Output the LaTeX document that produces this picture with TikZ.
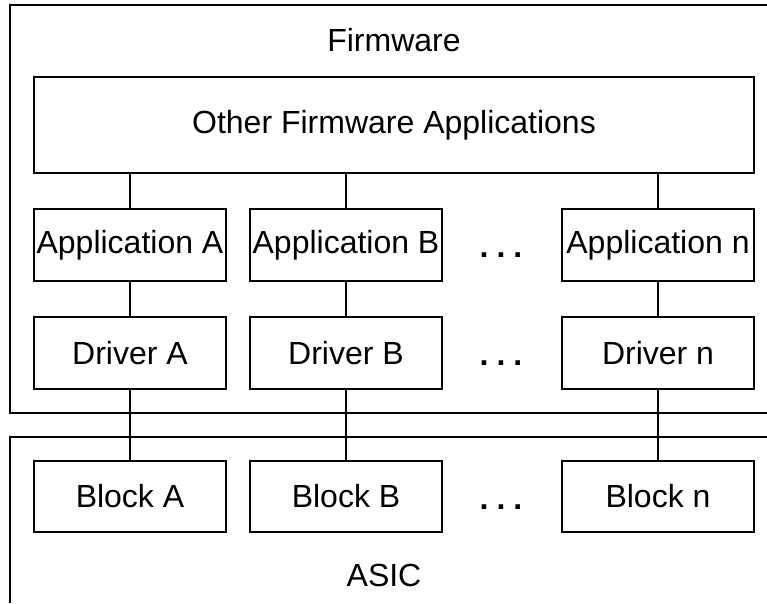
\documentclass[tikz,border=0pt]{standalone}
\usepackage{fontspec}
\setmainfont{Liberation Sans}
\begin{document}
\begin{tikzpicture}[x=1pt,y=-1pt,line width=1.6pt,
  box/.style={draw,rectangle,minimum width=192pt,minimum height=72pt,inner sep=0pt,font=\fontsize{32}{38}\selectfont},
  lbl/.style={font=\fontsize{32}{38}\selectfont,inner sep=0pt},
  dots/.style={font=\fontsize{32}{38}\selectfont\bfseries,inner sep=0pt,anchor=base}]
\useasboundingbox (0,0) rectangle (767,603);
% outer frames
\draw (767,5) -- (10,5) -- (10,413) -- (767,413);
\draw (767,437) -- (10,437) -- (10,603);
\node[lbl] (fw) at (394,40) {Firmware};
\node[lbl] (asic) at (384,575) {ASIC};
% other apps
\node[box,minimum width=720pt,minimum height=96pt] (other) at (394,125) {Other Firmware Applications};
% columns
\node[box] (appA) at (130,245) {Application A};
\node[box] (appB) at (346,245) {Application B};
\node[box] (appN) at (658,245) {Application n};
\node[box] (drvA) at (130,353) {Driver A};
\node[box] (drvB) at (346,353) {Driver B};
\node[box] (drvN) at (658,353) {Driver n};
\node[box,minimum height=71pt] (blkA) at (130,496.5) {Block A};
\node[box,minimum height=71pt] (blkB) at (346,496.5) {Block B};
\node[box,minimum height=71pt] (blkN) at (658,496.5) {Block n};
% dots
\node[dots] (d1) at (501,257) {.\hspace{8pt}.\hspace{8pt}.};
\node[dots] (d2) at (501,365) {.\hspace{8pt}.\hspace{8pt}.};
\node[dots] (d3) at (501,509) {.\hspace{8pt}.\hspace{8pt}.};
% connectors
\foreach \c in {A,B,N}{
  \draw (other.south -| app\c.north) -- (app\c.north);
  \draw (app\c.south) -- (drv\c.north);
  \draw (drv\c.south) -- (blk\c.north);
}
\end{tikzpicture}
\end{document}
